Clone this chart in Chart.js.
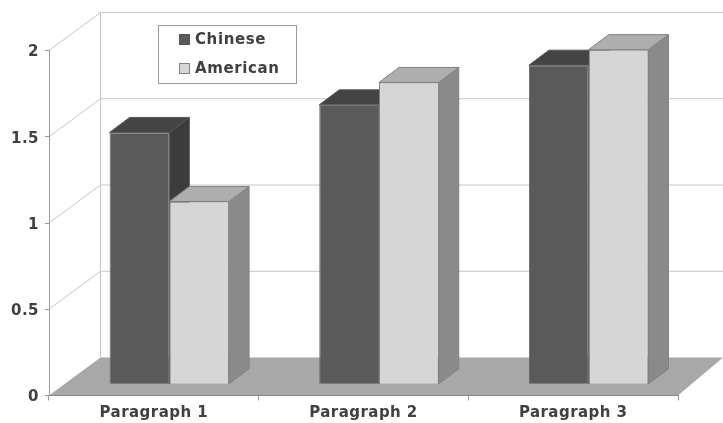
<!DOCTYPE html>
<html>
<head>
<meta charset="utf-8">
<title>Paragraph scores</title>
<script src="https://cdn.jsdelivr.net/npm/chart.js@4/dist/chart.umd.min.js"></script>
<style>
  html, body { margin: 0; padding: 0; background: #fff; }
  canvas { display: block; }
</style>
</head>
<body>
<canvas id="paragraphChart" width="723" height="423"></canvas>
<script>
var categories = ["Paragraph 1", "Paragraph 2", "Paragraph 3"];
var chinese = [1.46, 1.62, 1.85];
var american = [1.06, 1.75, 1.94];
var tickLabels = [0, 0.5, 1, 1.5, 2];

var AXIS_FONT = "'DejaVu Sans', sans-serif";
var TEXT_COLOR = "#404040";

// depth of the back wall and of the bars, and how far bars sit in from the front edge
var wallDepth = { x: 51.5, y: 38 };
var barDepth = { x: 20, y: 15 };
var barShift = { x: 15.5, y: -11.2 };

function face(ctx, pts, fill, stroke) {
  ctx.beginPath();
  ctx.moveTo(pts[0][0], pts[0][1]);
  for (var i = 1; i < pts.length; i++) ctx.lineTo(pts[i][0], pts[i][1]);
  ctx.closePath();
  ctx.fillStyle = fill;
  ctx.fill();
  if (stroke) {
    ctx.lineWidth = 1;
    ctx.strokeStyle = stroke;
    ctx.stroke();
  }
}

// floor, back wall and gridlines
var wallPlugin = {
  id: "wall",
  afterLayout: function (chart) {
    // value labels sit a little below their tick marks
    chart.scales.y.getLabelItems().forEach(function (item) {
      item.options.translation[1] += 2;
    });
  },
  beforeDraw: function (chart) {
    var ctx = chart.ctx;
    var area = chart.chartArea;
    var y = chart.scales.y;
    var backX = area.left + wallDepth.x;

    ctx.letterSpacing = "0.45px";

    ctx.save();
    face(ctx, [
      [area.left, area.bottom],
      [backX, area.bottom - wallDepth.y],
      [chart.width, area.bottom - wallDepth.y],
      [area.right, area.bottom]
    ], "#a8a8a8");

    ctx.lineWidth = 1;
    ctx.strokeStyle = "#c6c6c6";
    ctx.beginPath();
    y.ticks.forEach(function (t) {
      var py = y.getPixelForValue(t.value);
      if (t.value > 0) {
        ctx.moveTo(area.left, py);
        ctx.lineTo(backX, py - wallDepth.y);
        ctx.lineTo(chart.width, py - wallDepth.y);
      }
    });
    ctx.moveTo(backX, area.top - wallDepth.y);
    ctx.lineTo(backX, area.bottom - wallDepth.y);
    ctx.stroke();
    ctx.restore();
  }
};

// bars are drawn here so the right hand bar of a pair lands on top of the left one.
// side and top faces come first, the front face is the normal bar element
var boxPlugin = {
  id: "box",
  beforeDatasetDraw: function () {
    return false;
  },
  afterDatasetsDraw: function (chart) {
    var ctx = chart.ctx;
    ctx.save();
    ctx.translate(barShift.x, barShift.y);
    chart.data.datasets.forEach(function (ds, i) {
      var meta = chart.getDatasetMeta(i);
      meta.data.forEach(function (bar) {
        var p = bar.getProps(["x", "y", "base", "width"], true);
        var l = p.x - p.width / 2;
        var r = p.x + p.width / 2;
        face(ctx, [
          [r, p.y],
          [r + barDepth.x, p.y - barDepth.y],
          [r + barDepth.x, p.base - barDepth.y],
          [r, p.base]
        ], ds.sideColor, ds.edgeColor);
        face(ctx, [
          [l, p.y],
          [l + barDepth.x, p.y - barDepth.y],
          [r + barDepth.x, p.y - barDepth.y],
          [r, p.y]
        ], ds.topColor, ds.edgeColor);
        bar.draw(ctx);
      });
    });
    ctx.restore();
  }
};

var legendPlugin = {
  id: "boxLegend",
  afterDraw: function (chart) {
    var ctx = chart.ctx;
    ctx.save();
    ctx.fillStyle = "#fff";
    ctx.strokeStyle = "#9a9a9a";
    ctx.lineWidth = 1;
    ctx.fillRect(158.5, 25.5, 138, 58);
    ctx.strokeRect(158.5, 25.5, 138, 58);

    ctx.font = "bold 15px " + AXIS_FONT;
    ctx.letterSpacing = "0.6px";
    ctx.textBaseline = "middle";
    chart.data.datasets.forEach(function (ds, i) {
      var top = 34.5 + i * 29;
      ctx.fillStyle = ds.backgroundColor;
      ctx.strokeStyle = ds.edgeColor;
      ctx.fillRect(179.5, top, 10, 10);
      ctx.strokeRect(179.5, top, 10, 10);
      ctx.fillStyle = TEXT_COLOR;
      ctx.fillText(ds.label, 195, top + 5.5);
    });
    ctx.restore();
  }
};

new Chart(document.getElementById("paragraphChart"), {
  type: "bar",
  data: {
    labels: categories,
    datasets: [{
      label: "Chinese",
      data: chinese,
      backgroundColor: "#5a5a5a",
      borderColor: "#6a6a6a",
      borderWidth: 1,
      topColor: "#444444",
      sideColor: "#3c3c3c",
      edgeColor: "#555555"
    }, {
      label: "American",
      data: american,
      backgroundColor: "#d6d6d6",
      borderColor: "#808080",
      borderWidth: 1,
      topColor: "#aeaeae",
      sideColor: "#8a8a8a",
      edgeColor: "#808080"
    }]
  },
  options: {
    responsive: false,
    animation: false,
    layout: { padding: { top: 50.5, right: 45, left: 0, bottom: 0 } },
    datasets: { bar: { barPercentage: 1, categoryPercentage: 0.57 } },
    plugins: {
      legend: { display: false },
      tooltip: { enabled: false }
    },
    scales: {
      x: {
        afterFit: function (s) { s.height = 27.5; },
        grid: { drawOnChartArea: false, tickLength: 5, tickColor: "#999" },
        border: { color: "#888" },
        ticks: {
          color: TEXT_COLOR,
          padding: 4,
          maxRotation: 0,
          font: { family: AXIS_FONT, size: 15, weight: "bold" }
        }
      },
      y: {
        min: 0,
        max: 2,
        afterFit: function (s) { s.width = 49; },
        afterBuildTicks: function (s) {
          s.ticks = tickLabels.map(function (v) { return { value: v }; });
        },
        grid: { drawOnChartArea: false, tickLength: 4, tickColor: "#999" },
        border: { color: "#999" },
        ticks: {
          color: TEXT_COLOR,
          padding: 6,
          font: { family: AXIS_FONT, size: 15, weight: "bold" },
          callback: function (v) { return String(v); }
        }
      }
    }
  },
  plugins: [wallPlugin, boxPlugin, legendPlugin]
});
</script>
</body>
</html>
